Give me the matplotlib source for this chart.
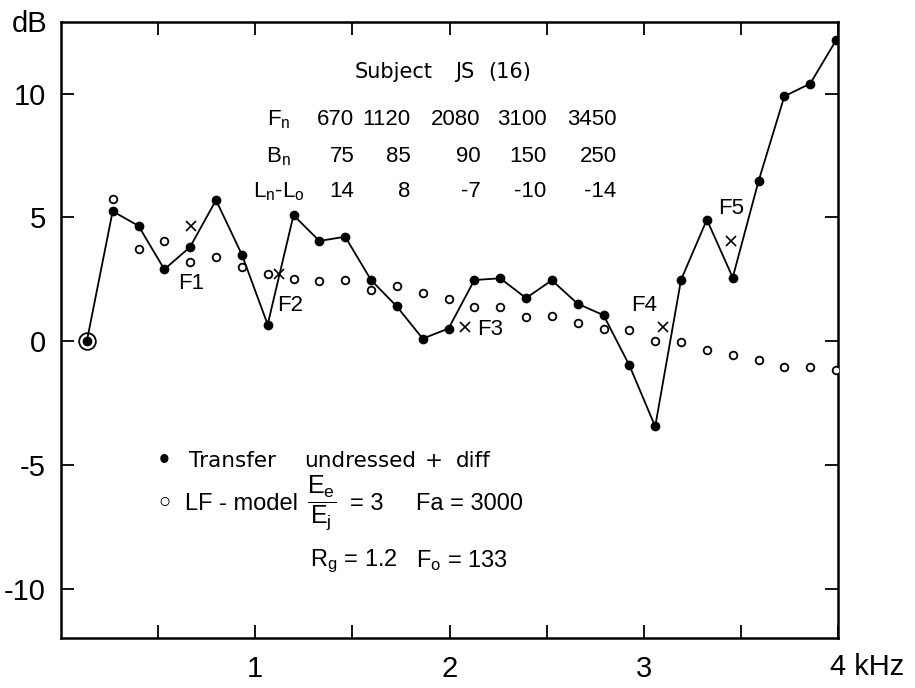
import matplotlib
matplotlib.use('Agg')
import matplotlib.pyplot as plt
from matplotlib.ticker import FixedLocator
import numpy as np

plt.rcParams['font.family'] = ['Liberation Sans', 'DejaVu Sans']
plt.rcParams['mathtext.default'] = 'regular'
plt.rcParams['axes.unicode_minus'] = False

# %% data (harmonics of F0 = 133 Hz)
freq_khz = [0.133, 0.266, 0.399, 0.532, 0.665, 0.798, 0.931, 1.064, 1.197, 1.330,
            1.463, 1.596, 1.729, 1.862, 1.995, 2.128, 2.261, 2.394, 2.527, 2.660,
            2.793, 2.926, 3.059, 3.192, 3.325, 3.458, 3.591, 3.724, 3.857, 3.990]
transfer_db = [0.0, 5.25, 4.66, 2.90, 3.81, 5.70, 3.50, 0.67, 5.09, 4.05,
               4.22, 2.47, 1.40, 0.10, 0.51, 2.47, 2.54, 1.74, 2.46, 1.51,
               1.05, -0.98, -3.45, 2.48, 4.91, 2.57, 6.47, 9.90, 10.41, 12.16]
lf_model_db = [0.0, 5.74, 3.72, 4.06, 3.21, 3.42, 3.00, 2.72, 2.52, 2.43,
               2.49, 2.07, 2.21, 1.96, 1.72, 1.38, 1.39, 0.97, 1.00, 0.74,
               0.51, 0.45, 0.01, -0.05, -0.34, -0.55, -0.77, -1.03, -1.03, -1.16]

formant_names = ['F1', 'F2', 'F3', 'F4', 'F5']
formant_hz = [670, 1120, 2080, 3100, 3450]
bandwidth_hz = [75, 85, 90, 150, 250]
level_db = [14, 8, -7, -10, -14]
formant_peak_db = [4.67, 2.71, 0.57, 0.58, 4.05]
formant_label_xy = [(0.67, 2.34), (1.18, 1.46), (2.21, 0.49), (3.00, 1.46), (3.45, 5.37)]

# %%
fig = plt.figure(figsize=(9.15, 6.88), dpi=100)
ax = fig.add_axes([61/915, 1-638/688, (838-61)/915, (638-22)/688])

ax.plot(freq_khz, transfer_db, '-', color='black', lw=1.3, marker='o', ms=6,
        mfc='black', mec='black', zorder=3)
ax.plot(freq_khz[1:], lf_model_db[1:], 'o', ms=5.5, mfc='white', mec='black',
        mew=1.3, zorder=4)
ax.plot(freq_khz[:1], lf_model_db[:1], 'o', ms=12, mfc='none', mec='black',
        mew=1.3, zorder=4)
ax.plot(np.array(formant_hz) / 1000, formant_peak_db, 'x', ms=7, mew=1.2,
        color='black', zorder=4)
for name, (lx, ly) in zip(formant_names, formant_label_xy):
    ax.text(lx, ly, name, ha='center', va='center', fontsize=16)

ax.set_xlim(0, 4)
ax.set_ylim(-12, 12.9)
ax.xaxis.set_major_locator(FixedLocator([1, 2, 3, 4]))
ax.xaxis.set_minor_locator(FixedLocator([0.5, 1.5, 2.5, 3.5]))
ax.set_xticklabels(['1', '2', '3', ''])
ax.yaxis.set_major_locator(FixedLocator([-10, -5, 0, 5, 10]))
ax.tick_params(which='both', direction='in', length=9.5, width=1.3,
               top=True, right=True, labelsize=21)
ax.tick_params(axis='x', pad=12)
ax.tick_params(axis='y', pad=11)
for s in ax.spines.values():
    s.set_linewidth(1.8)

ax.annotate('4 kHz', xy=(4, 0), xycoords=('data', 'axes fraction'),
            xytext=(-6, -11), textcoords='offset points', ha='left', va='top',
            fontsize=21)
fig.text(30/915, 1-24/688, 'dB', ha='center', va='center', fontsize=21)

# table of formant parameters
wide = 'DejaVu Sans'
for x, word in zip([1.51, 2.03, 2.20], ['Subject', 'JS', '(16)']):
    ax.text(x, 10.88, word, ha='left', va='center', fontsize=15, family=wide)
row_names = ['$F_n$', '$B_n$', '$L_n$-$L_o$']
row_vals = [formant_hz, bandwidth_hz, level_db]
row_y = [8.73, 7.23, 5.81]
col_x = [1.51, 1.80, 2.16, 2.50, 2.86]
for name, vals, y in zip(row_names, row_vals, row_y):
    ax.text(1.12, y, name, ha='center', va='baseline', fontsize=16)
    for x, v in zip(col_x, vals):
        ax.text(x, y, str(v), ha='right', va='baseline', fontsize=16)

# legend block
ax.text(0.53, -4.83, '\u2022', ha='center', va='center', fontsize=22)
for x, word in zip([0.66, 1.25, 1.92, 2.035], ['Transfer', 'undressed', '+', 'diff']):
    ax.text(x, -4.83, word, ha='center' if word == '+' else 'left',
            va='center', fontsize=15.5, family=wide)
ax.text(0.53, -6.57, '\u25e6', ha='center', va='center', fontsize=22,
        family='DejaVu Sans')
ax.text(0.64, -6.57, 'LF - model', ha='left', va='center', fontsize=17)
ax.text(1.34, -6.53, r'$\dfrac{E_e}{E_j}$', ha='center', va='center', fontsize=18)
ax.text(1.49, -6.57, '= 3', ha='left', va='center', fontsize=17)
ax.text(1.83, -6.57, 'Fa = 3000', ha='left', va='center', fontsize=17)
ax.text(1.28, -8.88, '$R_g$ = 1.2', ha='left', va='center', fontsize=17)
ax.text(1.83, -8.88, '$F_o$ = 133', ha='left', va='center', fontsize=17)

fig.savefig('out.png', dpi=100)
